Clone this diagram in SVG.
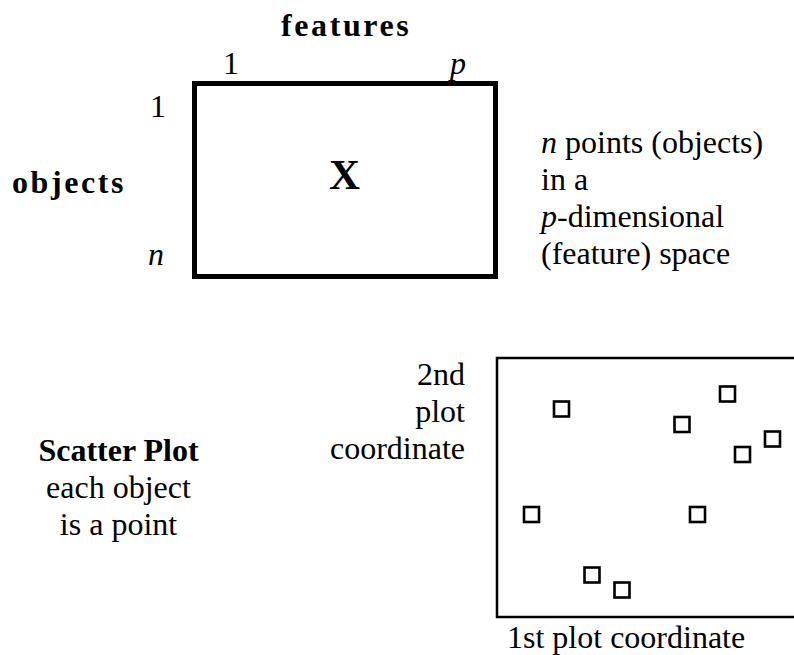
<svg xmlns="http://www.w3.org/2000/svg" width="794" height="655" viewBox="0 0 794 655">
<style>
text{font-family:"Liberation Serif","Times New Roman",serif;font-size:32px;fill:#000}
.b{font-weight:bold}
.sp{letter-spacing:2.6px}
.i{font-style:italic}
.pt{fill:none;stroke:#000;stroke-width:2.6}
</style>
<rect width="794" height="655" fill="#fff"/>
<g id="matrix">
<rect x="194.5" y="83.5" width="301" height="193" fill="none" stroke="#000" stroke-width="5"/>
<text x="344.5" y="189" text-anchor="middle" class="b" style="font-size:43px">X</text>
</g>
<g id="features-label">
<text x="281" y="36" class="b sp">features</text>
<text x="223" y="74">1</text>
<text x="450" y="74" class="i">p</text>
</g>
<g id="objects-label">
<text x="12" y="193" class="b sp">objects</text>
<text x="150" y="117">1</text>
<text x="148" y="265" class="i">n</text>
</g>
<g id="description">
<text x="541" y="153"><tspan class="i">n</tspan> points (objects)</text>
<text x="541" y="190">in a</text>
<text x="541" y="227"><tspan class="i">p</tspan>-dimensional</text>
<text x="541" y="264">(feature) space</text>
</g>
<g id="scatter-caption">
<text x="118.5" y="461" text-anchor="middle" class="b">Scatter Plot</text>
<text x="118.5" y="498" text-anchor="middle">each object</text>
<text x="118.5" y="535" text-anchor="middle">is a point</text>
</g>
<g id="y-axis-label">
<text x="465" y="385" text-anchor="end">2nd</text>
<text x="465" y="422" text-anchor="end">plot</text>
<text x="465" y="459" text-anchor="end">coordinate</text>
</g>
<g id="x-axis-label">
<text x="507" y="648">1st plot coordinate</text>
</g>
<g id="scatter-plot">
<rect x="497" y="358" width="310" height="259" fill="none" stroke="#000" stroke-width="2.5"/>
<rect class="pt" x="554" y="401.5" width="15" height="15"/>
<rect class="pt" x="720" y="386.5" width="15" height="15"/>
<rect class="pt" x="674.5" y="417" width="15" height="15"/>
<rect class="pt" x="765" y="431.5" width="15" height="15"/>
<rect class="pt" x="735" y="447" width="15" height="15"/>
<rect class="pt" x="524" y="507" width="15" height="15"/>
<rect class="pt" x="690" y="507" width="15" height="15"/>
<rect class="pt" x="584.5" y="567.5" width="15" height="15"/>
<rect class="pt" x="614.5" y="582.5" width="15" height="15"/>
</g>
</svg>
